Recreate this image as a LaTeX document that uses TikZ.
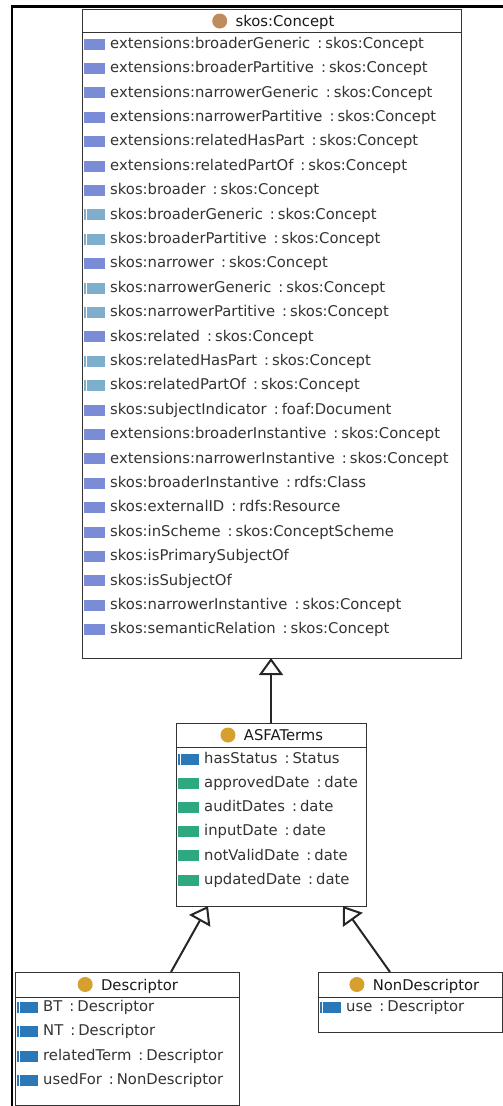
\documentclass[tikz,border=0pt]{standalone}
\usepackage{fontspec}
\setmainfont{DejaVu Sans}
\usetikzlibrary{arrows.meta}
\definecolor{objprop}{HTML}{7A8CD6}
\definecolor{subprop}{HTML}{7DAECB}
\definecolor{relprop}{HTML}{2A78B8}
\definecolor{dataprop}{HTML}{2DA982}
\definecolor{dotbrown}{HTML}{BE8C5F}
\definecolor{dotgold}{HTML}{D5A02D}
\definecolor{edgecol}{HTML}{333333}
\definecolor{txt}{HTML}{333333}
\newcommand{\umlsep}{\hspace*{7pt}:\hspace*{3pt}}
\newcommand{\prow}[5]{%
  \node[#4] (#1i) at (#2+1.5,#3+1) {};
  \node[rowtext] (#1) at (#2+28,#3+5.3) {#5};}
\tikzset{
 classbox/.style={draw=edgecol, line width=1pt, fill=white, anchor=north west, inner sep=0pt, outer sep=0pt},
 titletext/.style={font=\fontsize{14.8}{17}\selectfont, text=black!90, anchor=base, inner sep=0pt},
 rowtext/.style={font=\fontsize{14.8}{17}\selectfont, text=txt, anchor=base west, inner sep=0pt},
 icon/.style={fill=#1, minimum width=21pt, minimum height=11pt, inner sep=0pt, anchor=west},
 iconbar/.style={icon=#1, path picture={\draw[white, line width=1.1pt] ([xshift=2.6pt]path picture bounding box.north west) -- ([xshift=2.6pt]path picture bounding box.south west);}},
 clsdot/.style={circle, fill=#1, minimum size=15pt, inner sep=0pt, anchor=east, xshift=-8pt},
 gen/.style={draw=black!85, line width=2pt, -{Triangle[open, length=17pt, width=24pt]}},
 sepline/.style={draw=edgecol, line width=1pt},
}
\begin{document}
\begin{tikzpicture}[x=1pt,y=-1pt]
\useasboundingbox (0,0) rectangle (503,1106);
\draw[line width=2.3pt, black] (12,1106) -- (12,6.5) -- (503,6.5);

% ---------- skos:Concept ----------
\node[classbox, minimum width=379pt, minimum height=649pt] (concept) at (82,9) {};
\draw[sepline] ([yshift=-23pt]concept.north west) -- ([yshift=-23pt]concept.north east);
\node[titletext] (conceptT) at (285,26.5) {skos:Concept};
\node[clsdot=dotbrown] (conceptD) at (conceptT.west |- 0,21) {};
\prow{c1}{82}{43}{icon=objprop}{extensions:broaderGeneric\umlsep skos:Concept}
\prow{c2}{82}{67.4}{icon=objprop}{extensions:broaderPartitive\umlsep skos:Concept}
\prow{c3}{82}{91.8}{icon=objprop}{extensions:narrowerGeneric\umlsep skos:Concept}
\prow{c4}{82}{116.2}{icon=objprop}{extensions:narrowerPartitive\umlsep skos:Concept}
\prow{c5}{82}{140.6}{icon=objprop}{extensions:relatedHasPart\umlsep skos:Concept}
\prow{c6}{82}{165}{icon=objprop}{extensions:relatedPartOf\umlsep skos:Concept}
\prow{c7}{82}{189.4}{icon=objprop}{skos:broader\umlsep skos:Concept}
\prow{c8}{82}{213.8}{iconbar=subprop}{skos:broaderGeneric\umlsep skos:Concept}
\prow{c9}{82}{238.2}{iconbar=subprop}{skos:broaderPartitive\umlsep skos:Concept}
\prow{c10}{82}{262.6}{icon=objprop}{skos:narrower\umlsep skos:Concept}
\prow{c11}{82}{287}{iconbar=subprop}{skos:narrowerGeneric\umlsep skos:Concept}
\prow{c12}{82}{311.4}{iconbar=subprop}{skos:narrowerPartitive\umlsep skos:Concept}
\prow{c13}{82}{335.8}{icon=objprop}{skos:related\umlsep skos:Concept}
\prow{c14}{82}{360.2}{iconbar=subprop}{skos:relatedHasPart\umlsep skos:Concept}
\prow{c15}{82}{384.6}{iconbar=subprop}{skos:relatedPartOf\umlsep skos:Concept}
\prow{c16}{82}{409}{icon=objprop}{skos:subjectIndicator\umlsep foaf:Document}
\prow{c17}{82}{433.4}{icon=objprop}{extensions:broaderInstantive\umlsep skos:Concept}
\prow{c18}{82}{457.8}{icon=objprop}{extensions:narrowerInstantive\umlsep skos:Concept}
\prow{c19}{82}{482.2}{icon=objprop}{skos:broaderInstantive\umlsep rdfs:Class}
\prow{c20}{82}{506.6}{icon=objprop}{skos:externalID\umlsep rdfs:Resource}
\prow{c21}{82}{531}{icon=objprop}{skos:inScheme\umlsep skos:ConceptScheme}
\prow{c22}{82}{555.4}{icon=objprop}{skos:isPrimarySubjectOf}
\prow{c23}{82}{579.8}{icon=objprop}{skos:isSubjectOf}
\prow{c24}{82}{604.2}{icon=objprop}{skos:narrowerInstantive\umlsep skos:Concept}
\prow{c25}{82}{628.6}{icon=objprop}{skos:semanticRelation\umlsep skos:Concept}

% ---------- ASFATerms ----------
\node[classbox, minimum width=190pt, minimum height=183pt] (asfa) at (176,723) {};
\draw[sepline] ([yshift=-24pt]asfa.north west) -- ([yshift=-24pt]asfa.north east);
\node[titletext] (asfaT) at (283.5,740.5) {ASFATerms};
\node[clsdot=dotgold] (asfaD) at (asfaT.west |- 0,735) {};
\prow{a1}{176}{758}{iconbar=relprop}{hasStatus\umlsep Status}
\prow{a2}{176}{782.2}{icon=dataprop}{approvedDate\umlsep date}
\prow{a3}{176}{806.4}{icon=dataprop}{auditDates\umlsep date}
\prow{a4}{176}{830.6}{icon=dataprop}{inputDate\umlsep date}
\prow{a5}{176}{854.8}{icon=dataprop}{notValidDate\umlsep date}
\prow{a6}{176}{879}{icon=dataprop}{updatedDate\umlsep date}

% ---------- Descriptor ----------
\node[classbox, minimum width=224pt, minimum height=133pt] (desc) at (15,972) {};
\draw[sepline] ([yshift=-25pt]desc.north west) -- ([yshift=-25pt]desc.north east);
\node[titletext] (descT) at (139.5,990) {Descriptor};
\node[clsdot=dotgold] (descD) at (descT.west |- 0,984.5) {};
\prow{d1}{15}{1006}{iconbar=relprop}{BT\umlsep Descriptor}
\prow{d2}{15}{1030.5}{iconbar=relprop}{NT\umlsep Descriptor}
\prow{d3}{15}{1055}{iconbar=relprop}{relatedTerm\umlsep Descriptor}
\prow{d4}{15}{1079.5}{iconbar=relprop}{usedFor\umlsep NonDescriptor}

% ---------- NonDescriptor ----------
\node[classbox, minimum width=184pt, minimum height=60pt] (nondesc) at (318,972) {};
\draw[sepline] ([yshift=-25pt]nondesc.north west) -- ([yshift=-25pt]nondesc.north east);
\node[titletext] (nondescT) at (426,990) {NonDescriptor};
\node[clsdot=dotgold] (nondescD) at (nondescT.west |- 0,984.5) {};
\prow{n1}{318}{1006}{iconbar=relprop}{use\umlsep Descriptor}

% ---------- generalisations ----------
\draw[gen] (asfa.north) -- (asfa.north |- concept.south);
\draw[gen] ([xshift=44pt]desc.north) -- ([xshift=-63pt]asfa.south);
\draw[gen] ([xshift=-20pt]nondesc.north) -- ([xshift=72pt]asfa.south);
\end{tikzpicture}
\end{document}
